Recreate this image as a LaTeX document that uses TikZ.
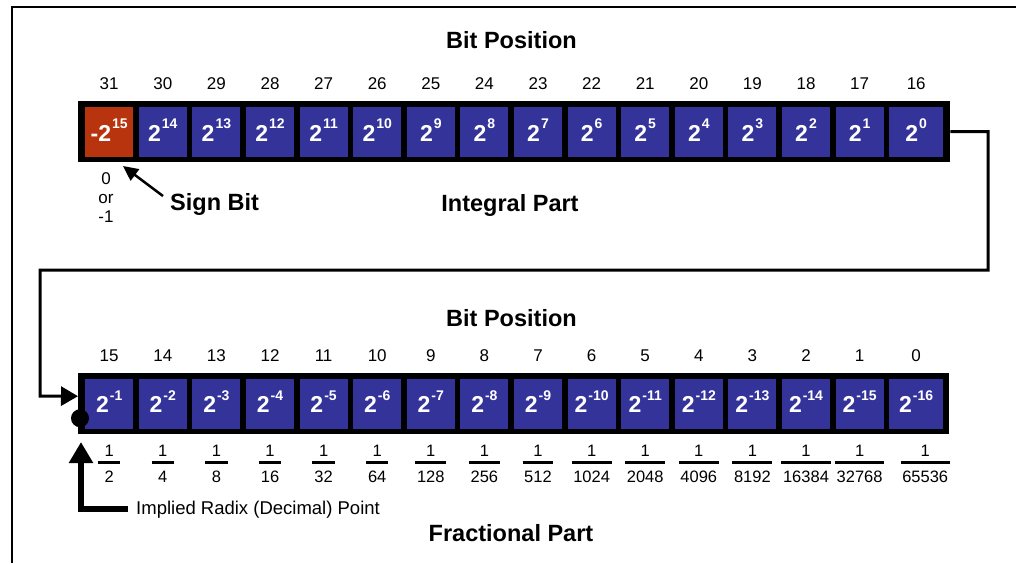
\documentclass[tikz,border=0pt]{standalone}
\usepackage{fontspec}
\setmainfont{Liberation Sans}
\usetikzlibrary{arrows.meta}
\definecolor{cellblue}{RGB}{51,51,153}
\definecolor{signorange}{RGB}{183,52,14}
\newcommand\cellexp[2]{#1\kern1pt\raisebox{12.5pt}{\fontsize{14}{14}\selectfont #2}}
\begin{document}
\begin{tikzpicture}[x=1pt,y=-1pt,
  bar/.style={fill=black, inner sep=0, anchor=north west, minimum height=61pt},
  cell/.style={inner sep=0, anchor=north west, minimum height=50pt},
  celltext/.style={text=white, font=\fontsize{23}{26}\selectfont\bfseries, inner sep=0, anchor=base},
  bitnum/.style={font=\fontsize{17}{20}\selectfont, inner sep=0, anchor=base},
  heading/.style={font=\fontsize{23.5}{28}\selectfont\bfseries, inner sep=0, anchor=base},
  fracnum/.style={font=\fontsize{16.5}{20}\selectfont, inner sep=0, anchor=base},
  fracden/.style={font=\fontsize{16.5}{20}\selectfont, inner xsep=1.5pt, inner ysep=0pt, text height=12pt, text depth=0pt, minimum width=22pt, anchor=base},
  fracbar/.style={line width=3pt},
  conn/.style={line width=3pt},
  frameline/.style={line width=2pt},
  radixtxt/.style={font=\fontsize{18.5}{22}\selectfont, inner sep=0, anchor=base west}
]
\useasboundingbox (0,0) rectangle (1016,563);
\draw[frameline] (12,563) -- (12,7) -- (1016,7);

% headings
\node[heading] (bp1) at (511.5,48) {Bit Position};
\node[heading] (bp2) at (511.5,326) {Bit Position};
\node[heading] (intlbl) at (510,211) {Integral Part};
\node[heading] (fraclbl) at (511,541) {Fractional Part};

% bars
\node[bar, minimum width=872pt] (bar1) at (78,101) {};
\node[bar, minimum width=871pt] (bar2) at (78,373) {};

\foreach \i/\den in {0/2,1/4,2/8,3/16,4/32,5/64,6/128,7/256,8/512,9/1024,10/2048,11/4096,12/8192,13/16384,14/32768,15/65536}{
  \pgfmathsetmacro\cx{85+\i*53.6}
  \ifnum\i=15 \def\w{54}\def\fx{9}\else\def\w{48}\def\fx{0}\fi
  \ifnum\i=0 \def\fillc{signorange}\else\def\fillc{cellblue}\fi
  \pgfmathtruncatemacro\tb{31-\i}
  \pgfmathtruncatemacro\te{15-\i}
  \pgfmathtruncatemacro\bb{15-\i}
  \pgfmathtruncatemacro\be{\i+1}
  % top row
  \node[cell, fill=\fillc, minimum width=\w pt] (t\tb) at (\cx,107) {};
  \node[bitnum] (tn\tb) at ([yshift=18pt]t\tb.north) {\tb};
  \node[celltext] (tx\tb) at ([yshift=-9pt]t\tb.center) {\ifnum\i=0 -\fi\cellexp{2}{\te}};
  % bottom row
  \node[cell, fill=cellblue, minimum width=\w pt] (b\bb) at (\cx,379) {};
  \node[bitnum] (bn\bb) at ([yshift=18pt]b\bb.north) {\bb};
  \node[celltext] (bx\bb) at ([yshift=-8.5pt]b\bb.center) {\cellexp{2}{-\be}};
  % fractions
  \node[fracnum] (fn\bb) at ([xshift=\fx pt,yshift=-52pt]b\bb.center) {1};
  \node[fracden] (fd\bb) at ([xshift=\fx pt,yshift=-78pt]b\bb.center) {\den};
  \draw[fracbar] ([yshift=8pt]fd\bb.north west) -- ([yshift=8pt]fd\bb.north east);
}

% sign bit
\node[bitnum] (sv0) at (106,184) {0};
\node[bitnum] (sv1) at (106,203) {or};
\node[bitnum] (sv2) at (106,222) {-1};
\node[heading, anchor=base west] (signlbl) at (170,210) {Sign Bit};
\coordinate (signtip) at (123,166);
\draw[line width=2.5pt, -{Triangle[length=15pt,width=14pt]}] ([xshift=-7pt,yshift=14pt]signlbl.base west) -- (signtip);

% connector between rows
\draw[conn, -{Triangle[length=17pt,width=19pt]}] (bar1.east) -| (988,270) -| (40,396) -- ([yshift=7.5pt]bar2.west);

% radix point
\node[circle, fill=black, minimum size=18pt, inner sep=0] (radixdot) at ([xshift=2pt,yshift=-14.5pt]bar2.west) {};
\node[radixtxt] (radixlbl) at (136,514) {Implied Radix (Decimal) Point};
\coordinate (radixtip) at (81,442);
\draw[line width=6pt, -{Triangle[length=21pt,width=23pt]}] ([xshift=-8pt,yshift=5pt]radixlbl.base west) -| (radixtip);
\end{tikzpicture}
\end{document}
